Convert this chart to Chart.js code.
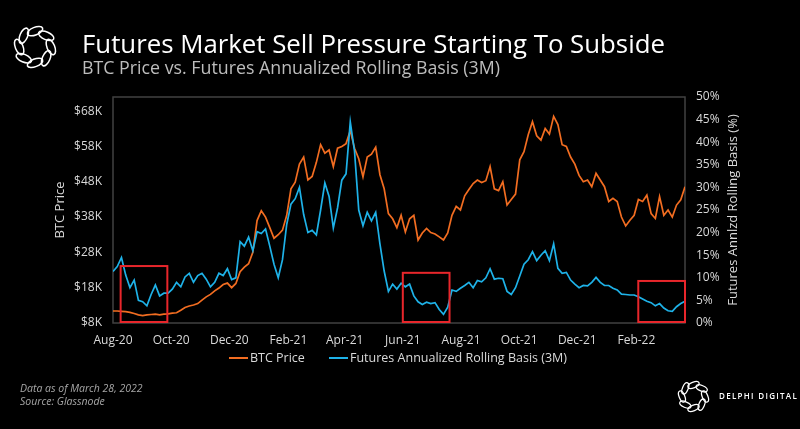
<!DOCTYPE html>
<html><head><meta charset="utf-8">
<script src="https://cdn.jsdelivr.net/npm/chart.js@4/dist/chart.umd.min.js"></script>
<style>
html,body{margin:0;padding:0;background:#000;}
#wrap{position:relative;width:800px;height:429px;background:#000;overflow:hidden;font-family:'Open Sans',sans-serif;}
#c{position:absolute;left:0;top:0;}
.abs{position:absolute;white-space:nowrap;}
#title{left:82px;top:28px;color:#fff;font-size:25.8px;line-height:30px;}
#sub{left:82px;top:56px;color:#bdbdbd;font-size:17.8px;line-height:22px;}
.leg{position:absolute;top:350px;color:#d9d9d9;font-size:12.5px;line-height:16px;display:flex;align-items:center;white-space:nowrap;}
.leg i{display:inline-block;width:19px;height:2px;margin-right:2px;}
.foot{left:20px;color:#a6a6a6;font-size:10.5px;font-style:italic;line-height:13px;}
#brand{left:719px;top:390px;color:#fff;font-size:8px;letter-spacing:1.3px;font-weight:600;}
</style></head>
<body><div id="wrap">
<canvas id="c" width="800" height="429"></canvas>
<div id="logo1" class="abs" style="left:11px;top:23px"></div>
<div id="title" class="abs">Futures Market Sell Pressure Starting To Subside</div>
<div id="sub" class="abs">BTC Price vs. Futures Annualized Rolling Basis (3M)</div>
<div id="leg1" class="leg" style="left:229px"><i style="background:#f26d21"></i><span id="l1"></span></div>
<div id="leg2" class="leg" style="left:329px"><i style="background:#1eb2e8"></i><span id="l2"></span></div>
<div class="abs foot" style="top:382px">Data as of March 28, 2022</div>
<div class="abs foot" style="top:395px">Source: Glassnode</div>
<div id="logo2" class="abs" style="left:676px;top:379px"></div>
<div id="brand" class="abs">DELPHI DIGITAL</div>
</div>
<script>
// ---- data ----
const startDate = '2020-08-01';
const endDate = '2022-03-24';
const tickLabels = ['Aug-20','Oct-20','Dec-20','Feb-21','Apr-21','Jun-21','Aug-21','Oct-21','Dec-21','Feb-22'];
const tickDates = ['2020-08-01','2020-10-01','2020-12-01','2021-02-01','2021-04-01','2021-06-01','2021-08-01','2021-10-01','2021-12-01','2022-02-01'];
const priceTicks = [8,18,28,38,48,58,68];          // $K
const basisTicks = [0,5,10,15,20,25,30,35,40,45,50]; // %
const seriesNames = ['BTC Price','Futures Annualized Rolling Basis (3M)'];
const axisTitles = ['BTC Price','Futures Annlzd Rolling Basis (%)'];
// BTC price in $K, evenly sampled from startDate to endDate
const btcPrice = [
11.4,11.4,11.3,11.2,11.0,10.7,10.3,10.1,10.3,10.4,
10.5,10.3,10.5,10.6,10.8,10.9,11.6,12.4,12.8,13.1,
13.5,14.5,15.4,16.1,17.1,17.9,18.9,19.3,18.0,19.2,
22.5,23.8,24.8,28.0,37.0,39.8,38.0,35.0,32.0,33.0,
34.3,38.5,46.0,47.9,53.0,55.0,48.5,49.5,53.5,58.5,
56.1,57.0,52.3,57.5,58.0,58.8,62.5,57.5,54.5,49.4,
55.0,55.8,57.8,50.0,46.0,39.0,37.5,35.0,38.5,33.8,
37.5,38.5,31.5,33.5,34.8,33.6,33.2,32.4,31.5,33.5,
38.5,41.0,40.0,44.0,45.8,47.5,48.5,47.8,48.3,52.3,
46.0,45.5,48.0,41.4,43.0,44.5,54.2,56.5,61.3,65.0,
61.0,59.8,63.1,61.5,66.5,64.2,58.5,58.0,55.0,53.0,
49.8,48.0,48.5,46.6,50.4,48.5,46.6,42.4,43.3,42.4,
38.0,35.5,37.1,38.5,43.0,42.4,44.2,39.0,37.6,43.8,
38.5,40.0,38.0,41.4,42.9,46.6];
// Futures annualized rolling basis (3M), %
const basisPct = [
11.4,12.5,14.5,10.6,7.8,9.5,5.0,4.7,3.8,6.3,
8.4,6.0,6.6,6.6,7.5,9.0,8.0,10.2,11.0,9.0,
10.5,11.0,9.7,8.0,9.0,11.0,10.5,12.0,9.6,10.0,
18.0,17.0,19.0,16.0,20.2,19.8,20.8,17.0,13.0,10.0,
14.0,21.8,26.3,27.5,30.0,24.0,20.0,20.5,19.5,25.0,
31.0,28.0,21.0,25.5,31.6,33.0,44.5,38.0,25.0,21.5,
24.5,22.6,24.5,17.5,11.5,7.0,8.6,7.5,8.8,8.0,
8.6,6.0,4.7,4.1,4.6,4.3,4.5,3.0,1.9,3.5,
7.3,7.0,7.7,8.3,9.0,7.8,9.4,9.1,10.0,12.0,
9.7,9.9,9.8,7.0,6.3,7.8,10.4,13.0,14.0,15.8,
13.8,15.0,16.0,13.8,17.5,12.1,11.0,11.2,9.5,8.6,
7.8,8.3,8.2,9.0,10.1,9.0,8.3,8.3,7.7,7.3,
6.4,6.3,6.2,6.2,5.8,5.3,4.8,4.5,3.8,4.3,
3.3,2.7,2.6,3.6,4.3,4.8];
// highlighted windows (annotation boxes on the basis axis)
const boxStart = ['2020-08-09','2021-06-01','2022-02-03'];
const boxEnd   = ['2020-09-27','2021-07-20','2022-03-24'];
const boxTopPct = [12.6,11.1,9.3];

// ---- helpers ----
const DAY = 864e5;
const dayOf = s => (Date.parse(s) - Date.parse(startDate)) / DAY;
const spanDays = dayOf(endDate);
const stepDays = spanDays / (btcPrice.length - 1);
const tickDays = tickDates.map(dayOf);
const ORANGE = '#f26d21', BLUE = '#1eb2e8', TXT = '#d9d9d9';
const FONT = "'Open Sans', sans-serif";

document.getElementById('l1').textContent = seriesNames[0];
document.getElementById('l2').textContent = seriesNames[1];

function logoSVG(size, sw){
  let s = `<svg width="${size}" height="${size}" viewBox="-50 -50 100 100">`;
  for (let k=0;k<8;k++){
    s += `<ellipse cx="0" cy="-33" rx="8" ry="17" transform="rotate(${k*45}) rotate(68 0 -33)" fill="none" stroke="#fff" stroke-width="${sw}"/>`;
  }
  return s + '</svg>';
}
document.getElementById('logo1').innerHTML = logoSVG(48, 3.2);
document.getElementById('logo2').innerHTML = logoSVG(35, 3.6);

const framePlugin = {
  id:'frame',
  beforeDatasetsDraw(c){
    const a=c.chartArea, g=c.ctx;
    g.save(); g.strokeStyle='#414141'; g.lineWidth=1.5;
    g.strokeRect(a.left, a.top, a.right-a.left, a.bottom-a.top);
    g.restore();
  },
  afterDatasetsDraw(c){
    const g=c.ctx, x=c.scales.x, y=c.scales.yBasis;
    g.save(); g.strokeStyle='#e8262b'; g.lineWidth=2;
    boxStart.forEach((s,i)=>{
      const x0=x.getPixelForValue(dayOf(s)), x1=x.getPixelForValue(dayOf(boxEnd[i]));
      const y0=y.getPixelForValue(boxTopPct[i]), y1=y.getPixelForValue(0);
      g.strokeRect(x0, y0, x1-x0, y1-y0-1);
    });
    g.restore();
  },
  afterDraw(c){
    // right axis title, reading bottom-to-top
    const g=c.ctx, a=c.chartArea;
    g.save();
    g.translate(733, (a.top+a.bottom)/2);
    g.rotate(-Math.PI/2);
    g.fillStyle=TXT; g.font='13px '+FONT; g.textAlign='center'; g.textBaseline='middle';
    g.fillText(axisTitles[1], 0, 0);
    g.restore();
  }
};

new Chart(document.getElementById('c'), {
  type:'line',
  data:{datasets:[
    {label:seriesNames[0], data:btcPrice.map((v,i)=>({x:i*stepDays,y:v})), yAxisID:'yPrice',
     borderColor:ORANGE, borderWidth:1.7, pointRadius:0, tension:0, order:1},
    {label:seriesNames[1], data:basisPct.map((v,i)=>({x:i*stepDays,y:v})), yAxisID:'yBasis',
     borderColor:BLUE, borderWidth:1.7, pointRadius:0, tension:0, order:0}
  ]},
  options:{
    responsive:false, animation:false, devicePixelRatio:1,
    layout:{padding:{top:97,left:0,right:0,bottom:0}},
    plugins:{legend:{display:false}, tooltip:{enabled:false}},
    scales:{
      x:{type:'linear', min:0, max:spanDays,
        grid:{display:false, drawTicks:false}, border:{display:false},
        afterBuildTicks:s=>{s.ticks = tickDays.map(v=>({value:v}));},
        ticks:{color:TXT, font:{family:FONT,size:12}, padding:10, maxRotation:0, autoSkip:false,
               callback:(v,i)=>tickLabels[i]},
        afterFit:s=>{s.height=106;}},
      yPrice:{position:'left', min:8, max:72,
        grid:{display:false, drawTicks:false}, border:{display:false},
        afterBuildTicks:s=>{s.ticks = priceTicks.map(v=>({value:v}));},
        ticks:{color:TXT, font:{family:FONT,size:12}, padding:11, callback:v=>'$'+v+'K'},
        title:{display:true, text:axisTitles[0], color:TXT, font:{family:FONT,size:13}, padding:{top:52,bottom:0}},
        afterFit:s=>{s.width=113;}},
      yBasis:{position:'right', min:0, max:50,
        grid:{display:false, drawTicks:false}, border:{display:false},
        afterBuildTicks:s=>{s.ticks = basisTicks.map(v=>({value:v}));},
        ticks:{color:TXT, font:{family:FONT,size:12}, padding:11, callback:v=>v+'%'},
        afterFit:s=>{s.width=115;}}
    }
  },
  plugins:[framePlugin]
});
</script>
</body></html>
